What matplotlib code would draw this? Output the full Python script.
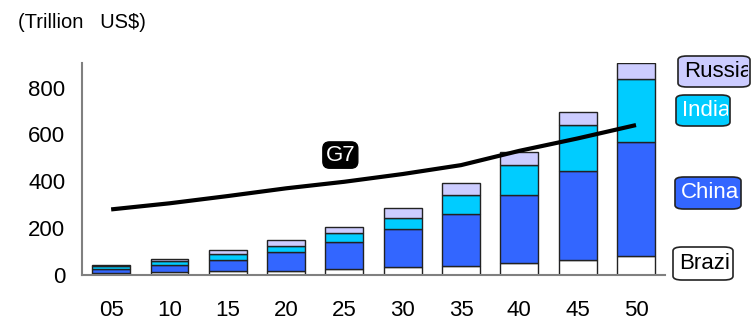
import numpy as np
import matplotlib.pyplot as plt
from matplotlib.patches import FancyBboxPatch
from matplotlib.transforms import Bbox, TransformedBbox

plt.rcParams['font.family'] = ['Liberation Sans', 'DejaVu Sans']

years = ['05', '10', '15', '20', '25', '30', '35', '40', '45', '50']
brazil = [10, 11, 17, 18, 24, 33, 40, 50, 64, 81]
china = [16, 32, 48, 79, 116, 162, 219, 290, 380, 486]
india = [11, 15, 26, 25, 40, 47, 84, 129, 196, 269]
russia = [6, 9, 16, 26, 25, 44, 48, 57, 57, 68]
g7 = [280, 306, 337, 370, 398, 431, 469, 530, 583, 640]

series = [('Brazil', brazil, '#ffffff', 'black'),
          ('China', china, '#3366ff', 'white'),
          ('India', india, '#00ccff', 'white'),
          ('Russia', russia, '#ccccff', 'black')]

fig = plt.figure(figsize=(7.55, 3.23), dpi=100)
ax = fig.add_axes([0.1086, 0.1486, 0.7724, 0.6564])

x = np.arange(len(years))
bottom = np.zeros(len(years))
for name, vals, color, _ in series:
    ax.bar(x, vals, width=0.65, bottom=bottom, color=color,
           edgecolor='#222222', linewidth=1.0, zorder=2)
    bottom += np.array(vals)

ax.plot(x, g7, color='black', linewidth=3.0, zorder=3,
        solid_capstyle='butt')

ax.set_xlim(-0.5, 9.5)
ax.set_ylim(0, 905)
ax.set_xticks(x)
ax.set_xticklabels(years)
ax.set_yticks([0, 200, 400, 600, 800])
ax.tick_params(axis='both', length=0, labelsize=16)
ax.tick_params(axis='x', pad=18)
ax.tick_params(axis='y', pad=12)
for side in ['top', 'right']:
    ax.spines[side].set_visible(False)
for side in ['left', 'bottom']:
    ax.spines[side].set_color('#808080')
    ax.spines[side].set_linewidth(1.5)

# G7 tag over the line
ax.text(3.93, 512, 'G7', color='white', fontsize=16, ha='center', va='center',
        bbox=dict(boxstyle='round,pad=0.12,rounding_size=0.3',
                  facecolor='black', edgecolor='black'), zorder=4)

fig.text(0.024, 0.93, '(Trillion   US$)', fontsize=14.5, ha='left', va='center')

# side labels for the countries, text cut off at the box edge
boxes = {'Russia': (678, 236, 72, 31),
         'India': (676, 197, 54, 31),
         'China': (675, 114, 66, 32),
         'Brazil': (673, 43, 60, 33)}
for name, _, color, tcolor in series:
    bx, by, bw, bh = boxes[name]
    patch = FancyBboxPatch((bx / 755, by / 323), bw / 755, bh / 323,
                           boxstyle='round,pad=0,rounding_size=0.012',
                           transform=fig.transFigure, facecolor=color,
                           edgecolor='#222222', linewidth=1.2)
    fig.patches.append(patch)
    t = fig.text((bx + 6) / 755, (by + bh / 2) / 323, name, color=tcolor,
                 fontsize=16, ha='left', va='center')
    clip = Bbox.from_bounds(bx / 755, by / 323, (bw - 2) / 755, bh / 323)
    t.set_clip_box(TransformedBbox(clip, fig.transFigure))
    t.set_clip_on(True)

fig.savefig('out.png', dpi=100)
